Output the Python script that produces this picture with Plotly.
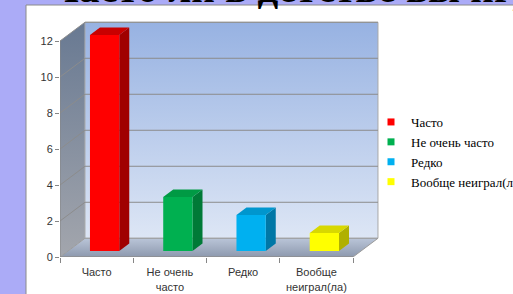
import plotly.graph_objects as go

categories = ["Часто", "Не очень часто", "Редко", "Вообще неиграл(ла)"]
tick_labels = ["Часто", "Не очень<br>часто", "Редко", "Вообще<br>неиграл(ла)"]
values = [12, 3, 2, 1]
y_ticks = [0, 2, 4, 6, 8, 10, 12]

front_colors = ["#FF0000", "#00B050", "#00B0F0", "#FFFF00"]
side_colors = ["#A00000", "#007A37", "#0077A6", "#B0B000"]
top_colors = ["#C80000", "#009A44", "#0096CE", "#D8D800"]

# 3D projection parameters (in axis units)
DX, DY = 0.341, 1.04      # depth offset of the back wall
F = 0.32                   # depth position of bar front face
BD = 0.4                   # bar depth fraction
BW = 0.4                   # bar width
ymax = max(y_ticks)
n = len(categories)

W, H = 513, 294
ml, mr, mt, mb = 60, 128, 20, 37
pw, ph = W - ml - mr, H - mt - mb
xr = [0, pw / 73.25]
yr = [0, ph / 18.0]

fig = go.Figure()

def poly(xs, ys, color=None, grad=None, line=None):
    tr = dict(x=xs + [xs[0]], y=ys + [ys[0]], mode="lines", fill="toself",
              hoverinfo="skip", showlegend=False,
              line=line or dict(width=0))
    if grad:
        tr["fillgradient"] = dict(type="vertical", colorscale=grad)
    else:
        tr["fillcolor"] = color
    fig.add_trace(go.Scatter(**tr))

# side wall
poly([0, DX, DX, 0], [0, DY, ymax + DY, ymax],
     grad=[[0, "#A3A6AD"], [1, "#687992"]], line=dict(width=0))
# back wall
poly([DX, n + DX, n + DX, DX], [DY, DY, ymax + DY, ymax + DY],
     grad=[[0, "#DDE6F5"], [1, "#97B2E2"]], line=dict(color="#A8A8A8", width=1))
# floor
poly([0, n, n + DX, DX], [0, 0, DY, DY],
     grad=[[0, "#8D99AE"], [1, "#BAC5D8"]], line=dict(color="#9A9A9A", width=1))

# gridlines
gx, gy = [], []
for v in y_ticks[1:]:
    gx += [0, DX, n + DX, None]
    gy += [v, v + DY, v + DY, None]
fig.add_trace(go.Scatter(x=gx, y=gy, mode="lines", line=dict(color="#8C8C8C", width=1),
                         hoverinfo="skip", showlegend=False))

# bars
b = F * DY
bdx, bdy = BD * DX, BD * DY
for i, v in enumerate(values):
    xl = i + 0.5 + F * DX - BW / 2
    xrr = xl + BW
    top = v + b
    # side
    poly([xrr, xrr + bdx, xrr + bdx, xrr], [b, b + bdy, top + bdy, top], color=side_colors[i])
    # top
    poly([xl, xrr, xrr + bdx, xl + bdx], [top, top, top + bdy, top + bdy], color=top_colors[i])
    # front
    poly([xl, xrr, xrr, xl], [b, b, top, top], color=front_colors[i])

# axis lines
fig.add_trace(go.Scatter(x=[0, 0, None, 0, n], y=[0, ymax, None, 0, 0], mode="lines",
                         line=dict(color="#868686", width=1), hoverinfo="skip", showlegend=False))

# legend entries
for c, col in zip(categories, front_colors):
    fig.add_trace(go.Scatter(x=[None], y=[None], mode="markers", name=c,
                             marker=dict(symbol="square", size=7, color=col)))

fig.update_layout(
    width=W, height=H,
    margin=dict(l=ml, r=mr, t=mt, b=mb, pad=0, autoexpand=False),
    paper_bgcolor="#ABABF7",
    plot_bgcolor="rgba(0,0,0,0)",
    showlegend=True,
    legend=dict(x=(371 - ml) / pw, y=(257 - 107) / ph, xanchor="left", yanchor="top",
                font=dict(family="Liberation Serif", size=13, color="#000000"),
                bgcolor="rgba(0,0,0,0)", itemclick=False),
    xaxis=dict(range=xr, tickvals=[i + 0.5 for i in range(n)], ticktext=tick_labels,
               showgrid=False, zeroline=False, showline=False,
               ticks="outside", ticklen=5, tickcolor="rgba(0,0,0,0)",
               minor=dict(tickvals=list(range(n + 1)), ticks="outside", ticklen=5,
                          tickcolor="#868686", showgrid=False),
               tickfont=dict(family="Liberation Sans", size=11, color="#333333")),
    yaxis=dict(range=yr, tickvals=y_ticks, showgrid=False, zeroline=False, showline=False,
               ticks="outside", ticklen=4, tickcolor="#868686",
               tickfont=dict(family="Liberation Sans", size=11, color="#333333")),
    shapes=[dict(type="rect", xref="paper", yref="paper",
                 x0=(26 - ml) / pw, x1=(530 - ml) / pw,
                 y0=(H - mb - 310) / ph, y1=(H - mb - 5) / ph,
                 fillcolor="#FFFFFF", line=dict(color="#8A8A8A", width=1), layer="below")],
    annotations=[dict(text="<b>Часто ли в детстве вы играли?</b>", xref="paper", yref="paper",
                      x=(47 - ml) / pw, y=(H - mb - 13.5) / ph, xanchor="left", yanchor="bottom",
                      showarrow=False,
                      font=dict(family="Liberation Serif", size=41, color="#000000"))],
)

fig.write_html("out.html", config={"displayModeBar": False},
               post_script="document.body.style.margin='0';document.body.style.overflow='hidden';")
